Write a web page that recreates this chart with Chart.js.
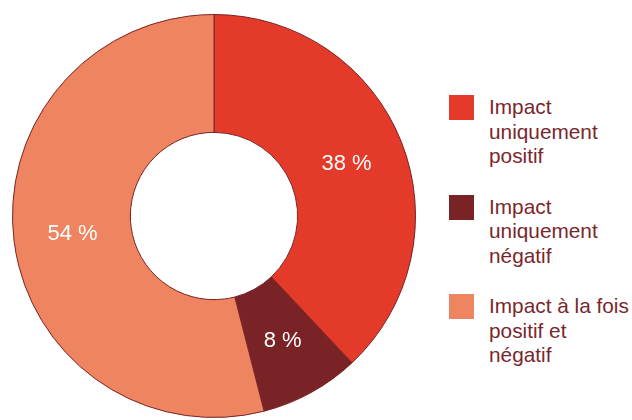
<!DOCTYPE html>
<html>
<head>
<meta charset="utf-8">
<script src="https://cdn.jsdelivr.net/npm/chart.js@4.4.0/dist/chart.umd.min.js"></script>
<style>
  html, body { margin: 0; padding: 0; background: #ffffff; }
  #wrap { position: relative; width: 632px; height: 420px; overflow: hidden; }
  #chartBox { position: absolute; left: 0; top: 0; width: 428px; height: 420px; }
  #legend { position: absolute; left: 449px; top: 95px; font-family: "Liberation Sans", Arial, sans-serif; }
  .item { position: relative; height: 99.5px; }
  .sw { position: absolute; left: 0; top: 0; width: 25px; height: 25px; }
  .txt { position: absolute; left: 40px; top: 0; font-size: 20.8px; line-height: 24.5px; color: #7A272C; white-space: nowrap; }
</style>
</head>
<body>
<div id="wrap">
  <div id="chartBox"><canvas id="c"></canvas></div>
  <div id="legend"></div>
</div>
<script>
// Data
const categories = [
  ["Impact", "uniquement", "positif"],
  ["Impact", "uniquement", "négatif"],
  ["Impact à la fois", "positif et", "négatif"]
];
const shares = [38, 8, 54];
const colors = ["#E33A2A", "#7A2326", "#EE8460"];

// Slice labels plugin
const sliceLabels = {
  id: "sliceLabels",
  afterDatasetsDraw(chart) {
    const ctx = chart.ctx;
    const meta = chart.getDatasetMeta(0);
    ctx.save();
    ctx.fillStyle = "#ffffff";
    ctx.font = '22px "Liberation Sans", Arial, sans-serif';
    ctx.textAlign = "center";
    ctx.textBaseline = "middle";
    meta.data.forEach((arc, i) => {
      const p = arc.getProps(["x", "y", "startAngle", "endAngle", "innerRadius", "outerRadius"], true);
      const mid = (p.startAngle + p.endAngle) / 2;
      const r = (p.innerRadius + p.outerRadius) / 2;
      ctx.fillText(shares[i] + " %", p.x + Math.cos(mid) * r, p.y + Math.sin(mid) * r);
    });
    ctx.restore();
  }
};

new Chart(document.getElementById("c"), {
  type: "doughnut",
  data: {
    labels: categories.map(l => l.join(" ")),
    datasets: [{
      data: shares,
      backgroundColor: colors,
      borderColor: "#7A2326",
      borderWidth: 1
    }]
  },
  options: {
    responsive: true,
    maintainAspectRatio: false,
    animation: false,
    cutout: "41.5%",
    layout: { padding: { left: 12, right: 12, top: 14, bottom: 2 } },
    plugins: {
      legend: { display: false },
      tooltip: { enabled: false }
    }
  },
  plugins: [sliceLabels]
});

// HTML legend
const legend = document.getElementById("legend");
categories.forEach((lines, i) => {
  const item = document.createElement("div");
  item.className = "item";
  const sw = document.createElement("div");
  sw.className = "sw";
  sw.style.background = colors[i];
  const txt = document.createElement("div");
  txt.className = "txt";
  lines.forEach((line, j) => {
    if (j) txt.appendChild(document.createElement("br"));
    txt.appendChild(document.createTextNode(line));
  });
  item.appendChild(sw);
  item.appendChild(txt);
  legend.appendChild(item);
});
</script>
</body>
</html>
